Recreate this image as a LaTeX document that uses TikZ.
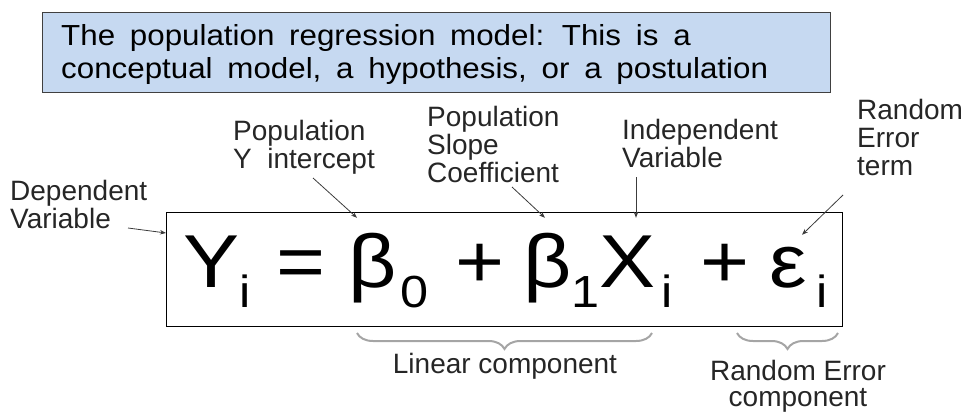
\documentclass[tikz,border=0pt]{standalone}
\usepackage{fontspec}
\setmainfont{Liberation Sans}
\newfontfamily\boxfont[WordSpace=1.7,FakeStretch=1.08]{Liberation Sans}
\newfontfamily\eqfont[FakeStretch=1.12]{Liberation Sans}
\usetikzlibrary{arrows.meta,positioning,calc,decorations.pathreplacing}
\definecolor{boxblue}{RGB}{198,217,241}
\definecolor{bracegray}{RGB}{165,165,165}
\definecolor{ptrgray}{RGB}{60,60,60}
\newcommand\eqsub[2][0pt]{\hspace{#1}\raisebox{-20pt}{\fontsize{45}{45}\selectfont #2}}

\begin{document}
\begin{tikzpicture}[x=1pt,y=-1pt,
  lbl/.style={font=\fontsize{28}{28}\selectfont, align=left, inner sep=0pt, anchor=base west, text=black!85},
  eqterm/.style={font=\eqfont\fontsize{75}{75}\selectfont, inner sep=0pt, anchor=base west, text height=54pt, text depth=20pt},
  ptr/.style={draw=ptrgray, line width=0.8pt, -{Stealth[length=6pt,width=4.5pt]}},
  brc/.style={draw=bracegray, line width=2pt, decorate, decoration={brace, amplitude=16pt, mirror}}]
  \useasboundingbox (0,0) rectangle (966,412);
  % Title box
  \node[draw=black!75, fill=boxblue, minimum width=788pt, minimum height=80pt, inner sep=0pt, anchor=north west] (title) at (42,12) {};
  \node[font=\boxfont\fontsize{29}{33}\selectfont, align=left, inner sep=0pt, anchor=base west] (titletxt) at (61,78) {The population regression model: This is a\\conceptual model, a hypothesis, or a postulation};
  % Equation
  \node[draw=black, line width=0.9pt, minimum width=676pt, minimum height=114pt, inner sep=0pt, anchor=north west] (eqbox) at (166,212) {};
  \node[eqterm] (Yi) at (183,287) {Y\eqsub{i}};
  \node[eqterm] (eqsign) at (276,287) {=};
  \node[eqterm] (b0) at (348,287) {β\eqsub[4pt]{0}};
  \node[eqterm] (plusa) at (455,287) {+};
  \node[eqterm] (b1) at (523,287) {β\eqsub{1}};
  \node[eqterm] (Xi) at (599,287) {X\eqsub[6pt]{i}};
  \node[eqterm] (plusb) at (700,287) {+};
  \node[eqterm] (epsi) at (769,287) {ε\eqsub[10pt]{i}};
  % Labels (base = last line)
  \node[lbl] (lbldep) at (10,228) {Dependent\\Variable};
  \node[lbl] (lblint) at (233,168) {Population\\Y\ \ intercept};
  \node[lbl] (lblslope) at (427,182) {Population\\Slope\\Coefficient};
  \node[lbl] (lblind) at (622,167) {Independent\\Variable};
  \node[lbl] (lblerr) at (857,175) {Random\\Error\\term};
  \node[lbl, anchor=base] (lbllin) at (505,373) {Linear component};
  \node[lbl, font=\fontsize{28}{26}\selectfont, align=center, anchor=base] (lblrand) at (798,406) {Random Error\\component};
  % Pointers
  \draw[ptr] ($(lbldep.base west)+(118,0)$) -- ($(eqbox.north west)+(0,21)$);
  \draw[ptr] ($(lblint.base west)+(80,10)$) -- ($(b0.north west)+(9,-15)$);
  \draw[ptr] ($(lblslope.base west)+(85,5)$) -- ($(b1.north west)+(22,-15)$);
  \draw[ptr] ($(lblind.base west)+(14,10)$) -- ($(Xi.north west)+(37,-15)$);
  \draw[ptr] ($(lblerr.base west)+(-14,20)$) -- ($(epsi.north west)+(33,2)$);
  % Braces
  \draw[brc] (357,333) -- (652,333);
  \draw[brc] (737,333) -- (838,333);
\end{tikzpicture}
\end{document}
